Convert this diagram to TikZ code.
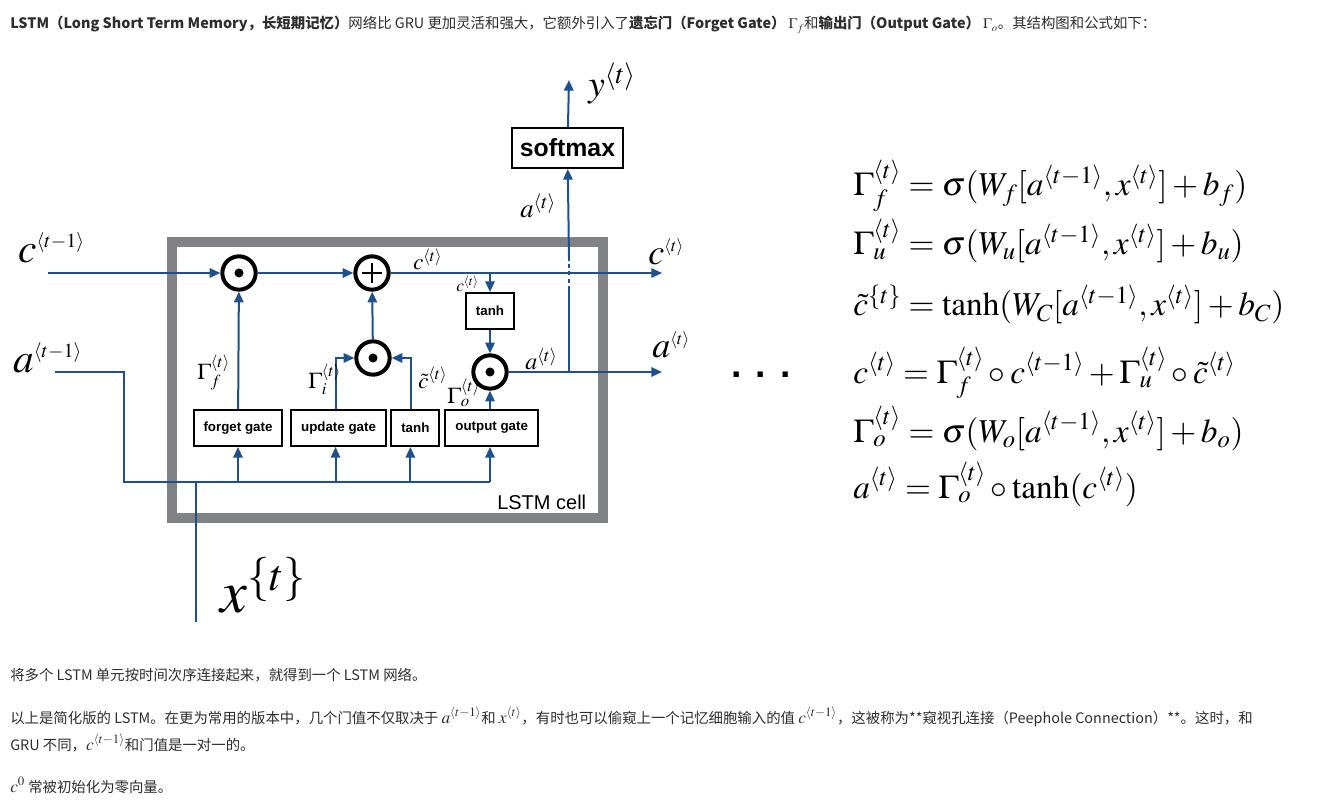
\documentclass[tikz,border=0pt]{standalone}
\usepackage{mathptmx}
\usepackage[no-math]{fontspec}
\setsansfont{Liberation Sans}
\newfontfamily\cjk{Noto Sans CJK SC}
\usepackage{tikz}
\usetikzlibrary{arrows.meta,positioning,calc}

\definecolor{lstmblue}{RGB}{30,80,140}
\definecolor{cellgray}{RGB}{128,130,133}
\definecolor{pagetext}{RGB}{45,45,45}
\newcommand{\fsz}[1]{\fontsize{#1}{#1}\selectfont}
\newcommand{\km}[1]{{\fsz{13}$#1$}}
\newcommand{\tsup}[2]{^{\mbox{\fsz{#1}$#2$}}}
\newcommand{\eqsp}{\medmuskip=2.5mu\relax}

\begin{document}
\begin{tikzpicture}[x=0.75pt,y=-0.75pt,
  >={Triangle[length=8pt,width=7pt]},
  flow/.style={draw=lstmblue, line width=1.5pt},
  opnode/.style={circle, draw, line width=3pt, minimum size=25pt, inner sep=0pt},
  dotop/.style={opnode, path picture={\fill (path picture bounding box.center) circle (3.4pt);}},
  plusop/.style={opnode, path picture={
      \draw[line width=2pt] ([xshift=-7.5pt]path picture bounding box.center) -- ([xshift=7.5pt]path picture bounding box.center)
        ([yshift=-7.5pt]path picture bounding box.center) -- ([yshift=7.5pt]path picture bounding box.center);}},
  gate/.style={draw, line width=1.5pt, font=\sffamily\bfseries\fsz{10}, minimum height=27pt, inner xsep=7.5pt, inner ysep=0pt},
  lbl/.style={inner sep=0pt, anchor=base west},
  eq/.style={lbl, font=\fsz{25}},
  pagetxt/.style={lbl, font=\cjk\fsz{10.8}, text=pagetext}]

  \fill[white] (0,0) rectangle (1325,802);
  \useasboundingbox (0,0) rectangle (1325,802);

  % page text above the figure
  \node[pagetxt] (intro) at (10,29) {{\bfseries LSTM（Long Short Term Memory，长短期记忆）}网络比 GRU 更加灵活和强大，它额外引入了{\bfseries 遗忘门（Forget Gate）} $\Gamma_f$和{\bfseries 输出门（Output Gate）} $\Gamma_o$。其结构图和公式如下：};

  % the cell
  \draw[cellgray, line width=7pt] (172,242) rectangle (603,518);
  \node[lbl, font=\sffamily\fsz{15}] (celllbl) at (497,509) {LSTM cell};

  % gates
  \node[gate] (fgate) at (238,428) {forget gate};
  \node[gate, right=5pt of fgate] (ugate) {update gate};
  \node[gate, right=2.5pt of ugate] (tgate) {tanh};
  \node[gate, right=3pt of tgate] (ogate) {output gate};
  \node[gate] (ctanh) at (490,311) {tanh};
  \node[gate, font=\sffamily\bfseries\fsz{18.6}, minimum height=30pt, inner xsep=6pt] (softmax) at (567.5,148) {softmax};

  % operations
  \node[dotop] (fmul) at (239,273) {};
  \node[plusop] (cadd) at (372,273) {};
  \node[dotop] (imul) at (373,358) {};
  \node[dotop] (omul) at (490,372) {};

  \coordinate (cin) at (48,273);
  \coordinate (cout) at (662,273);
  \coordinate (ain) at (55,372);
  \coordinate (aout) at (662,372);
  \coordinate (abr) at (569,372);
  \coordinate (hopb) at (569,290);
  \coordinate (hopt) at (569,258);
  \coordinate (yout) at (569,80);
  \coordinate (bus) at (124,482);
  \coordinate (busr) at (omul |- bus);
  \coordinate (xin) at (196,622);

  % memory line
  \draw[flow,->] (cin) -- (fmul);
  \draw[flow,->] (fmul) -- (cadd);
  \draw[flow,->] (cadd) -- (cout);
  \draw[flow,->] (ctanh.north |- cout) -- (ctanh);
  \draw[flow,->] (ctanh) -- (omul);
  \draw[flow,->] (omul) -- (aout);
  \draw[flow] (abr) -- (hopb);
  \draw[flow, dash pattern=on 3pt off 2.5pt] (hopb) -- (hopt);
  \draw[flow,->] (hopt) -- (softmax);
  \draw[flow,->] (softmax) -- (yout);

  % inputs
  \draw[flow] (ain) -| (bus) -- (busr);
  \draw[flow] (xin) -- (xin |- bus);
  \draw[flow,->] (fgate.south |- bus) -- (fgate);
  \draw[flow,->] ($(ugate.south |- bus)+(-3,0)$) -- ($(ugate.south)+(-3,0)$);
  \draw[flow,->] ($(tgate.south |- bus)+(-5,0)$) -- ($(tgate.south)+(-5,0)$);
  \draw[flow,->] (busr) -- (busr |- ogate.south);
  \draw[flow,->] (fgate) -- (fmul);
  \draw[flow,->] ($(ugate.north)+(-3,0)$) |- (imul);
  \draw[flow,->] ($(tgate.north)+(-4,0)$) |- (imul);
  \draw[flow,->] (imul) -- (cadd);
  \draw[flow,->] (omul |- ogate.north) -- (omul);

  % labels
  \node[lbl, font=\fsz{31}] (cprevlbl) at (18,263) {$c\tsup{15}{\langle t{-}1\rangle}$};
  \node[lbl, font=\fsz{31}] (aprevlbl) at (13,373) {$a\tsup{15}{\langle t{-}1\rangle}$};
  \node[lbl, font=\fsz{27}] (coutlbl) at (648,265) {$c\tsup{13}{\langle t\rangle}$};
  \node[lbl, font=\fsz{27}] (aoutlbl) at (652,358) {$a\tsup{13}{\langle t\rangle}$};
  \node[lbl, font=\fsz{28}] (youtlbl) at (588,97) {$y^{\langle t\rangle}$};
  \node[lbl, font=\fsz{20}] (auplbl) at (520,218) {$a^{\langle t\rangle}$};
  \node[lbl, font=\fsz{45}] (xinlbl) at (220,612) {$x^{\{t\}}$};
  \node[lbl, font=\fsz{17}] (clbl) at (413,270) {$c^{\langle t\rangle}$};
  \node[lbl, font=\fsz{13}] (ctlbl) at (456,292) {$c^{\langle t\rangle}$};
  \node[lbl, font=\fsz{17}] (gflbl) at (197,379) {$\Gamma_f^{\langle t\rangle}$};
  \node[lbl, font=\fsz{17}] (gilbl) at (308,388) {$\Gamma_i^{\langle t\rangle}$};
  \node[lbl, font=\fsz{17}] (ctildelbl) at (418,388) {$\tilde{c}^{\langle t\rangle}$};
  \node[lbl, font=\fsz{17}] (golbl) at (447,403) {$\Gamma_o^{\langle t\rangle}$};
  \node[lbl, font=\fsz{18}] (ainlbl) at (525,370) {$a^{\langle t\rangle}$};
  \node[lbl, anchor=base, font=\sffamily\bfseries\fsz{28}] (dots) at (761,378) {. . .};

  % equations
  \node[eq] (eqf) at (853,196) {$\eqsp\Gamma_f^{\langle t\rangle}=\sigma(W_f[a^{\langle t-1\rangle},x^{\langle t\rangle}]+b_f)$};
  \node[eq] (equ) at (853,255) {$\eqsp\Gamma_u^{\langle t\rangle}=\sigma(W_u[a^{\langle t-1\rangle},x^{\langle t\rangle}]+b_u)$};
  \node[eq] (eqc) at (853,316) {$\eqsp\tilde{c}^{\{t\}}=\tanh(W_C[a^{\langle t-1\rangle},x^{\langle t\rangle}]+b_C)$};
  \node[eq] (eqcell) at (853,383) {$\eqsp c^{\langle t\rangle}=\Gamma_f^{\langle t\rangle}\circ c^{\langle t-1\rangle}+\Gamma_u^{\langle t\rangle}\circ\tilde{c}^{\langle t\rangle}$};
  \node[eq] (eqo) at (853,442) {$\eqsp\Gamma_o^{\langle t\rangle}=\sigma(W_o[a^{\langle t-1\rangle},x^{\langle t\rangle}]+b_o)$};
  \node[eq] (eqa) at (853,498) {$\eqsp a^{\langle t\rangle}=\Gamma_o^{\langle t\rangle}\circ\tanh(c^{\langle t\rangle})$};

  % page text below the figure
  \node[pagetxt] (chain) at (10,680) {将多个 LSTM 单元按时间次序连接起来，就得到一个 LSTM 网络。};
  \node[pagetxt] (peep) at (10,723) {以上是简化版的 LSTM。在更为常用的版本中，几个门值不仅取决于 \km{a^{\langle t-1\rangle}}和 \km{x^{\langle t\rangle}}，有时也可以偷窥上一个记忆细胞输入的值 \km{c^{\langle t-1\rangle}}，这被称为**窥视孔连接（Peephole Connection）**。这时，和};
  \node[pagetxt] (peep2) at (10,750) {GRU 不同，\km{c^{\langle t-1\rangle}}和门值是一对一的。};
  \node[pagetxt] (init) at (10,792) {\km{c^0} 常被初始化为零向量。};
\end{tikzpicture}
\end{document}
